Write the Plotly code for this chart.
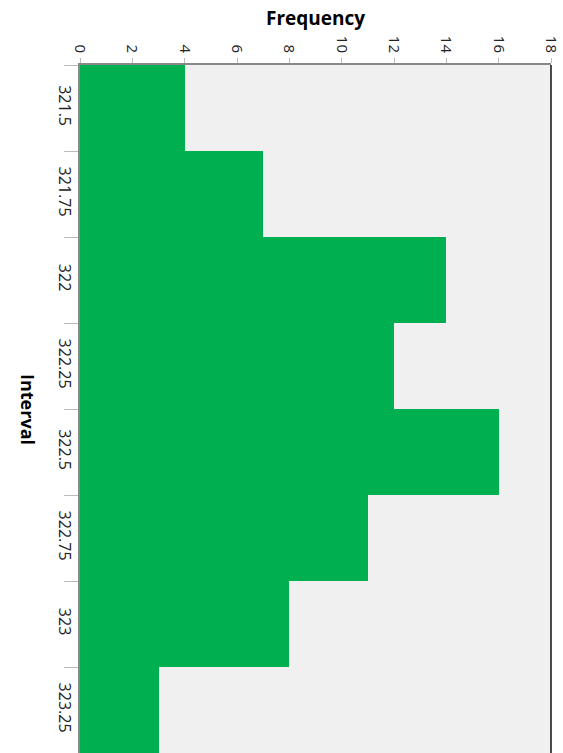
import plotly.graph_objects as go

# Histogram data: interval bins and their counts
intervals = ["321.5", "321.75", "322", "322.25", "322.5", "322.75", "323", "323.25"]
frequency = [4, 7, 14, 12, 16, 11, 8, 3]
freq_ticks = [0, 2, 4, 6, 8, 10, 12, 14, 16, 18]

FONT = "Open Sans, Noto Sans, sans-serif"

fig = go.Figure(
    go.Bar(
        x=frequency,
        y=intervals,
        orientation="h",
        marker=dict(color="#00b050", line=dict(width=0)),
    )
)

fig.update_layout(
    width=563,
    height=753,
    margin=dict(l=80, r=12, t=65, b=0),
    paper_bgcolor="white",
    plot_bgcolor="#f0f0f0",
    bargap=0,
    showlegend=False,
    font=dict(family=FONT, size=14, color="#222"),
    xaxis=dict(
        side="top",
        range=[0, 18],
        tickvals=freq_ticks,
        ticktext=[str(v) for v in freq_ticks],
        tickangle=90,
        ticks="outside",
        ticklen=5,
        tickcolor="#bbbbbb",
        showgrid=False,
        zeroline=False,
        showline=True,
        linecolor="#888888",
        linewidth=1.5,
        tickfont=dict(family=FONT, size=15, color="#222"),
    ),
    yaxis=dict(
        type="category",
        range=[7.5, -0.5],
        tickangle=90,
        ticks="outside",
        tickson="boundaries",
        ticklen=14,
        tickcolor="#bbbbbb",
        showgrid=False,
        zeroline=False,
        showline=True,
        linecolor="#888888",
        linewidth=1.5,
        tickfont=dict(family=FONT, size=16, color="#222"),
    ),
    shapes=[
        dict(type="line", xref="paper", yref="paper", x0=1, x1=1, y0=0, y1=1,
             line=dict(color="#111111", width=1.5)),
    ],
    annotations=[
        dict(text="<b>Frequency</b>", xref="paper", yref="paper",
             x=0.5, y=1, yshift=47, showarrow=False, yanchor="middle",
             font=dict(family=FONT, size=19, color="black")),
        dict(text="<b>Interval</b>", xref="paper", yref="paper",
             x=0, xshift=-52, y=0.5, showarrow=False, textangle=90,
             xanchor="center", font=dict(family=FONT, size=18, color="black")),
    ],
)

fig.write_html("out.html")
